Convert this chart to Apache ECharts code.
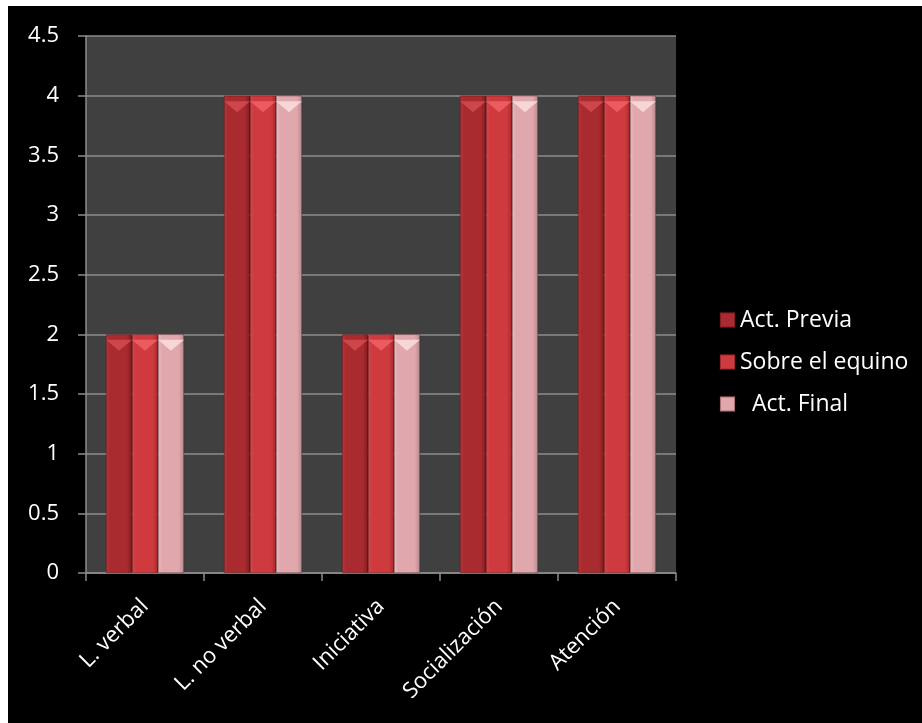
<!DOCTYPE html>
<html>
<head>
<meta charset="utf-8">
<script src="https://cdn.jsdelivr.net/npm/echarts@6/dist/echarts.min.js"></script>
<style>
  html, body { margin: 0; padding: 0; background: #ffffff; }
  #chart { position: absolute; left: 8px; top: 6px; width: 914px; height: 717px; background: #000000; }
</style>
</head>
<body>
<div id="chart"></div>
<script>
const categories = ['L. verbal', 'L. no verbal', 'Iniciativa', 'Socialización', 'Atención'];
const actPrevia = [2, 4, 2, 4, 4];
const sobreEquino = [2, 4, 2, 4, 4];
const actFinal = [2, 4, 2, 4, 4];
const seriesNames = ['Act. Previa', 'Sobre el equino', '  Act. Final'];
const yTicks = { min: 0, max: 4.5, step: 0.5 };

function shade(light, mid, dark) {
  return {
    type: 'linear', x: 0, y: 0, x2: 1, y2: 0,
    colorStops: [
      { offset: 0, color: light },
      { offset: 0.15, color: mid },
      { offset: 0.8, color: mid },
      { offset: 1, color: dark }
    ]
  };
}

const palette = [
  shade('#b8353a', '#a92b2f', '#7e1c20'),
  shade('#d9474b', '#cf3a3e', '#a82a2e'),
  shade('#ecbcc0', '#e0a8ac', '#b98a8e')
];
const bevelColors = ['#d0494d', '#ec6064', '#f8dadc'];
const legendColors = ['#a92b2f', '#cf3a3e', '#e0a8ac'];

const chart = echarts.init(document.getElementById('chart'));
const values = [actPrevia, sobreEquino, actFinal];
const gapCfg = { barGap: '0%', barCategoryGap: '34%' };

const barSeries = seriesNames.map((name, i) => Object.assign({
  name: name,
  type: 'bar',
  data: values[i],
  itemStyle: { color: palette[i], borderColor: 'rgba(60,10,12,0.35)', borderWidth: 0.5 }
}, gapCfg));

// bevelled cap on the top of each bar
const capSeries = seriesNames.map((name, i) => Object.assign({
  name: name + ' cap',
  type: 'pictorialBar',
  data: values[i],
  symbol: 'triangle',
  symbolRotate: 180,
  symbolSize: ['100%', 11],
  symbolPosition: 'end',
  symbolOffset: [0, '50%'],
  z: 3,
  silent: true,
  itemStyle: { color: bevelColors[i], opacity: 0.9 }
}, gapCfg));

chart.setOption({
  backgroundColor: '#000000',
  textStyle: { fontFamily: 'Open Sans' },
  grid: { left: 78, top: 30, right: 246, bottom: 150, show: true, backgroundColor: '#404040', borderWidth: 0 },
  legend: {
    orient: 'vertical',
    left: 706,
    top: 297,
    itemWidth: 15,
    itemHeight: 15,
    itemGap: 18,
    icon: 'rect',
    textStyle: { color: '#ffffff', fontSize: 23, lineHeight: 24, fontFamily: 'Open Sans' },
    data: seriesNames.map((n, i) => ({ name: n, itemStyle: { color: legendColors[i] } }))
  },
  xAxis: {
    type: 'category',
    data: categories,
    axisLine: { lineStyle: { color: '#8c8c8c', width: 1.5 } },
    axisTick: { show: true, length: 8, lineStyle: { color: '#8c8c8c', width: 1.5 } },
    axisLabel: { color: '#ffffff', fontSize: 22, rotate: 45, margin: 30, interval: 0 },
    splitLine: { show: false }
  },
  yAxis: {
    type: 'value',
    min: yTicks.min,
    max: yTicks.max,
    interval: yTicks.step,
    axisLine: { show: true, lineStyle: { color: '#8c8c8c', width: 1.5 } },
    axisTick: { show: true, length: 8, lineStyle: { color: '#8c8c8c', width: 1.5 } },
    axisLabel: { color: '#ffffff', fontSize: 22, margin: 27 },
    splitLine: { lineStyle: { color: '#8c8c8c', width: 1.5 } }
  },
  series: barSeries.concat(capSeries)
});
</script>
</body>
</html>
